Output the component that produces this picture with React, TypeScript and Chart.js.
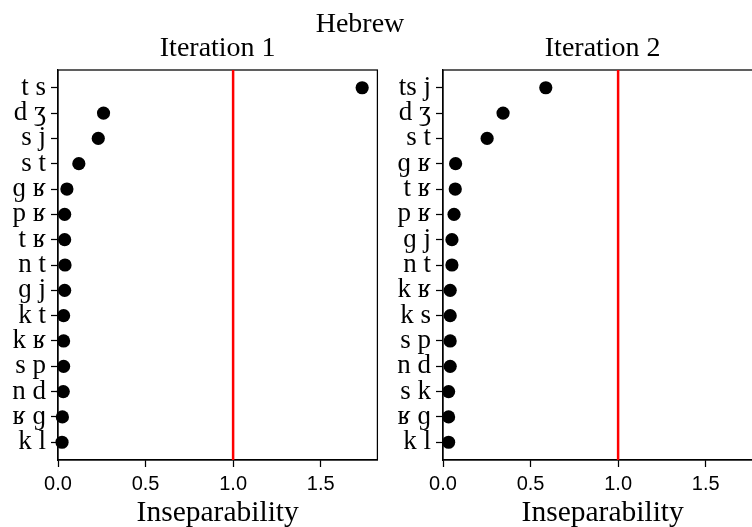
import React, { useEffect, useRef } from "react";
import { Chart, registerables } from "chart.js";

Chart.register(...registerables);

const figureTitle = "Hebrew";
const xAxisTitle = "Inseparability";
const panelTitles = ["Iteration 1", "Iteration 2"];

const labels1 = ["t s", "d ʒ", "s j", "s t", "ɡ ʁ", "p ʁ", "t ʁ", "n t", "ɡ j", "k t", "k ʁ", "s p", "n d", "ʁ ɡ", "k l"];
const values1 = [1.737, 0.26, 0.23, 0.119, 0.051, 0.038, 0.038, 0.04, 0.038, 0.032, 0.032, 0.032, 0.03, 0.025, 0.023];

const labels2 = ["ts j", "d ʒ", "s t", "ɡ ʁ", "t ʁ", "p ʁ", "ɡ j", "n t", "k ʁ", "k s", "s p", "n d", "s k", "ʁ ɡ", "k l"];
const values2 = [0.587, 0.343, 0.252, 0.072, 0.07, 0.063, 0.051, 0.051, 0.041, 0.041, 0.041, 0.041, 0.032, 0.032, 0.032];

const xTicks = [0, 0.5, 1.0, 1.5];
const xMin = 0;
const xMax = 1.824;
const threshold = 1.0;

const SERIF = "'Liberation Serif', 'DejaVu Serif', serif";
const SANS = "'Liberation Sans Narrow', 'Liberation Sans', 'DejaVu Sans', sans-serif";

const framePlugin = {
  id: "frame",
  beforeDatasetsDraw(chart: any) {
    const { ctx, chartArea } = chart;
    ctx.save();
    ctx.strokeStyle = "#000";
    ctx.lineWidth = 1.25;
    ctx.strokeRect(chartArea.left, chartArea.top, chartArea.right - chartArea.left, chartArea.bottom - chartArea.top);
    ctx.restore();
  },
};

function Panel({ title, labels, values, left }: { title: string; labels: string[]; values: number[]; left: number }) {
  const ref = useRef<HTMLCanvasElement>(null);
  useEffect(() => {
    const n = labels.length;
    const pad = 0.05 * (n - 1);
    const chart = new Chart(ref.current as HTMLCanvasElement, {
      type: "scatter",
      data: {
        datasets: [
          {
            type: "scatter",
            data: values.map((v, i) => ({ x: v, y: i })),
            backgroundColor: "#000",
            borderColor: "#000",
            borderWidth: 0,
            pointRadius: 6.6,
            clip: false,
          } as any,
          {
            type: "line",
            data: [
              { x: threshold, y: -pad },
              { x: threshold, y: n - 1 + pad },
            ],
            borderColor: "#ff0000",
            borderWidth: 2.5,
            pointRadius: 0,
            fill: false,
          } as any,
        ],
      },
      options: {
        responsive: false,
        animation: false,
        layout: { padding: { top: 32.2, right: 2, left: 0, bottom: 0 } },
        plugins: {
          legend: { display: false },
          tooltip: { enabled: false },
          title: {
            display: true,
            text: title,
            fullSize: false,
            color: "#000",
            font: { family: SERIF, size: 28, weight: "normal", lineHeight: 1.2 },
            padding: { top: 0, bottom: 4.2 },
          },
        },
        scales: {
          x: {
            type: "linear",
            min: xMin,
            max: xMax,
            afterBuildTicks: (s: any) => {
              s.ticks = xTicks.map((v) => ({ value: v }));
            },
            afterFit: (s: any) => {
              s.height = 67;
            },
            ticks: {
              callback: (v: any) => Number(v).toFixed(1),
              color: "#000",
              font: { family: SANS, size: 20 },
              padding: 5,
              maxRotation: 0,
              autoSkip: false,
            },
            grid: { drawOnChartArea: false, tickLength: 7, tickColor: "#000", tickWidth: 1.25 },
            border: { color: "#000", width: 1.25 },
            title: {
              display: true,
              text: xAxisTitle,
              color: "#000",
              font: { family: SERIF, size: 29.5, lineHeight: 0.9 },
              padding: 0,
            },
          },
          y: {
            type: "linear",
            reverse: true,
            min: -pad,
            max: n - 1 + pad,
            afterBuildTicks: (s: any) => {
              s.ticks = labels.map((_, i) => ({ value: i }));
            },
            afterFit: (s: any) => {
              s.width = 58;
            },
            ticks: {
              callback: (v: any) => labels[Math.round(Number(v))],
              color: "#000",
              font: { family: SERIF, size: 27 },
              padding: 5,
              autoSkip: false,
            },
            grid: { drawOnChartArea: false, tickLength: 7, tickColor: "#000", tickWidth: 1.25 },
            border: { color: "#000", width: 1.25 },
          },
        },
      } as any,
      plugins: [framePlugin],
    });
    return () => chart.destroy();
  }, []);
  return (
    <canvas
      ref={ref}
      width={384}
      height={527}
      style={{ position: "absolute", left, top: 0, width: 384, height: 527 }}
    />
  );
}

export default function App() {
  return (
    <div
      style={{
        position: "fixed",
        left: 0,
        top: 0,
        width: 752,
        height: 527,
        overflow: "hidden",
        background: "#fff",
      }}
    >
      <Panel title={panelTitles[0]} labels={labels1} values={values1} left={0} />
      <Panel title={panelTitles[1]} labels={labels2} values={values2} left={385} />
      <div
        style={{
          position: "absolute",
          left: 260,
          width: 200,
          top: 7.6,
          textAlign: "center",
          fontFamily: SERIF,
          fontSize: 28,
          lineHeight: "30px",
          color: "#000",
        }}
      >
        {figureTitle}
      </div>
    </div>
  );
}
